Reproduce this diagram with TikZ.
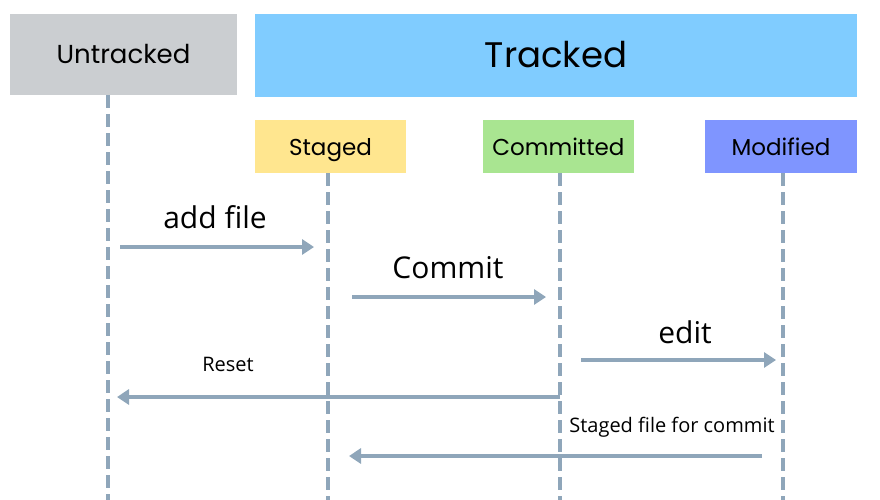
\documentclass[tikz,border=0pt]{standalone}
\usepackage{fontspec}
\setmainfont{Open Sans}
\newfontfamily\headfont{Poppins}
\usetikzlibrary{arrows.meta,positioning}
\definecolor{Slate}{HTML}{CBCED1}
\definecolor{Sky}{HTML}{80CCFF}
\definecolor{Butter}{HTML}{FFE68F}
\definecolor{Leaf}{HTML}{A9E591}
\definecolor{Iris}{HTML}{7F95FF}
\definecolor{Steel}{HTML}{8FA6BA}

\begin{document}
\begin{tikzpicture}[x=1pt,y=-1pt,
  head/.style={inner sep=0pt,align=center,text height=19pt,text depth=0pt,
    font=\headfont\fontsize{26}{30}\selectfont},
  state/.style={head,minimum width=151pt,minimum height=53pt,text height=17pt,
    font=\headfont\fontsize{23}{26}\selectfont},
  lifeline/.style={draw=Steel,line width=3.8pt,dash pattern=on 13pt off 6pt},
  arrow/.style={draw=Steel,line width=3.8pt,-{Triangle[length=12pt,width=15pt]}},
  tag/.style={inner sep=0pt,font=\fontsize{30}{34}\selectfont},
  smalltag/.style={inner sep=0pt,font=\fontsize{20}{23}\selectfont}]
\useasboundingbox (0,0) rectangle (880,500);
% header boxes
\node[head,fill=Slate,minimum width=227pt,minimum height=81pt](untracked) at (123.5,54.5){Untracked};
\node[head,fill=Sky,minimum width=602pt,minimum height=83pt,text height=25pt,
  font=\headfont\fontsize{35.5}{40}\selectfont](tracked) at (556,55.5){Tracked};
\node[state,fill=Butter](staged) at (330.5,146.5){Staged};
\node[state,fill=Leaf](committed) at (558.5,146.5){Committed};
\node[state,fill=Iris,minimum width=152pt](modified) at (781,146.5){Modified};
% lifelines
\coordinate (u top) at (108,95);   \coordinate (u end) at (108,500);
\coordinate (s top) at (328,173);  \coordinate (s end) at (328,500);
\coordinate (c top) at (560,173);  \coordinate (c end) at (560,500);
\coordinate (m top) at (783,173);  \coordinate (m end) at (783,500);
\draw[lifeline](u top)--(u end);
\draw[lifeline](s top)--(s end);
\draw[lifeline](c top)--(c end);
\draw[lifeline](m top)--(m end);
% messages
\coordinate (add a) at (120,247);  \coordinate (add b) at (314,247);
\coordinate (com a) at (352,297);  \coordinate (com b) at (546,297);
\coordinate (edit a) at (581,360); \coordinate (edit b) at (776,360);
\coordinate (reset a) at (560,397); \coordinate (reset b) at (117,397);
\coordinate (back a) at (762,456); \coordinate (back b) at (349,456);
\draw[arrow](add a)--(add b);
\draw[arrow](com a)--(com b);
\draw[arrow](edit a)--(edit b);
\draw[arrow](reset a)--(reset b);
\draw[arrow](back a)--(back b);
\node[tag](addtag) at (215,217){add file};
\node[tag](comtag) at (448,268){Commit};
\node[tag](edittag) at (685,332){edit};
\node[smalltag](resettag) at (228,364){Reset};
\node[smalltag](backtag) at (672,427){Staged file for commit};
\end{tikzpicture}
\end{document}
